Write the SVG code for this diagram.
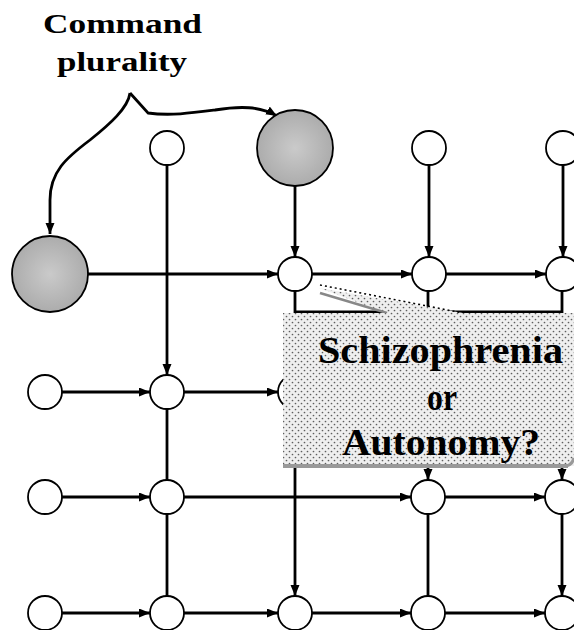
<svg xmlns="http://www.w3.org/2000/svg" width="574" height="630" viewBox="0 0 574 630">
<style>
.ln{fill:none;stroke:#000;stroke-width:2.8}
.ar{marker-end:url(#ah)}
.sn{fill:#fff;stroke:#000;stroke-width:1.8}
.gn{fill:url(#gg);stroke:#000;stroke-width:1.8}
.tx{font-family:"Liberation Serif","Times New Roman",serif;font-weight:bold;fill:#000}
</style>
<defs>
<marker id="ah" markerUnits="userSpaceOnUse" markerWidth="12" markerHeight="10" refX="11" refY="4.5" orient="auto">
<path d="M0,0 L11,4.5 L0,9 Z" fill="#000"/>
</marker>
<radialGradient id="gg" cx="0.5" cy="0.5" r="0.5">
<stop offset="0" stop-color="#cacaca"/>
<stop offset="1" stop-color="#acacac"/>
</radialGradient>
<pattern id="dots" width="6" height="6" patternUnits="userSpaceOnUse">
<rect width="6" height="6" fill="#efefef"/>
<circle cx="1.5" cy="1.5" r="0.85" fill="#5e5e5e"/>
<circle cx="4.5" cy="4.5" r="0.85" fill="#5e5e5e"/>
</pattern>
</defs>
<rect width="574" height="630" fill="#fff"/>
<g id="connectors">
<line class="ln ar" x1="167" y1="165" x2="167" y2="375"/>
<line class="ln ar" x1="295" y1="186" x2="295" y2="257"/>
<line class="ln ar" x1="88" y1="274" x2="278" y2="274"/>
<line class="ln ar" x1="312" y1="274" x2="412" y2="274"/>
<line class="ln ar" x1="446" y1="274" x2="546" y2="274"/>
<line class="ln ar" x1="429" y1="165" x2="429" y2="257"/>
<line class="ln ar" x1="563" y1="165" x2="563" y2="257"/>
<line class="ln ar" x1="295" y1="291" x2="295" y2="596"/>
<line class="ln ar" x1="428" y1="291" x2="428" y2="480"/>
<line class="ln ar" x1="562" y1="291" x2="562" y2="480"/>
<line class="ln" x1="295" y1="312" x2="562" y2="312"/>
<line class="ln ar" x1="62" y1="392" x2="150" y2="392"/>
<line class="ln ar" x1="184" y1="392" x2="278" y2="392"/>
<line class="ln" x1="167" y1="409" x2="167" y2="480"/>
<line class="ln ar" x1="62" y1="497" x2="150" y2="497"/>
<line class="ln ar" x1="184" y1="497" x2="411" y2="497"/>
<line class="ln ar" x1="445" y1="497" x2="545" y2="497"/>
<line class="ln" x1="167" y1="514" x2="167" y2="596"/>
<line class="ln" x1="428" y1="514" x2="428" y2="596"/>
<line class="ln ar" x1="562" y1="514" x2="562" y2="596"/>
<line class="ln ar" x1="62" y1="613" x2="150" y2="613"/>
<line class="ln ar" x1="184" y1="613" x2="278" y2="613"/>
<line class="ln ar" x1="312" y1="613" x2="411" y2="613"/>
<line class="ln ar" x1="445" y1="613" x2="545" y2="613"/>
<path class="ln ar" d="M130,93 C128,108 110,124 90,140 C66,158 50,172 50,200 L50,234"/>
<path class="ln ar" d="M130,93 L148,113 C170,116 192,113 215,110 C240,106 260,106 277,116"/>
</g>
<g id="n1"><circle class="sn" cx="167" cy="148" r="17"/></g>
<g id="g1"><circle class="gn" cx="295" cy="148" r="38"/></g>
<g id="n3"><circle class="sn" cx="429" cy="148" r="17"/></g>
<g id="n4"><circle class="sn" cx="563" cy="148" r="17"/></g>
<g id="g2"><circle class="gn" cx="50" cy="274" r="38"/></g>
<g id="n6"><circle class="sn" cx="295" cy="274" r="17"/></g>
<g id="n7"><circle class="sn" cx="429" cy="274" r="17"/></g>
<g id="n8"><circle class="sn" cx="563" cy="274" r="17"/></g>
<g id="n9"><circle class="sn" cx="45" cy="392" r="17"/></g>
<g id="n10"><circle class="sn" cx="167" cy="392" r="17"/></g>
<g id="n11"><circle class="sn" cx="295" cy="392" r="17"/></g>
<g id="n12"><circle class="sn" cx="45" cy="497" r="17"/></g>
<g id="n13"><circle class="sn" cx="167" cy="497" r="17"/></g>
<g id="n14"><circle class="sn" cx="428" cy="497" r="17"/></g>
<g id="n15"><circle class="sn" cx="562" cy="497" r="17"/></g>
<g id="n16"><circle class="sn" cx="45" cy="613" r="17"/></g>
<g id="n17"><circle class="sn" cx="167" cy="613" r="17"/></g>
<g id="n18"><circle class="sn" cx="295" cy="613" r="17"/></g>
<g id="n19"><circle class="sn" cx="428" cy="613" r="17"/></g>
<g id="n20"><circle class="sn" cx="562" cy="613" r="17"/></g>
<g id="label">
<text class="tx" x="43" y="33" font-size="28" textLength="159" lengthAdjust="spacingAndGlyphs">Command</text>
<text class="tx" x="57" y="71" font-size="28" textLength="130" lengthAdjust="spacingAndGlyphs">plurality</text>
</g>
<g id="callout">
<path d="M319,288 L387,313 L463,313 Z" fill="url(#dots)"/>
<line x1="320" y1="293" x2="387" y2="313" stroke="#888" stroke-width="2.5"/>
<line x1="320" y1="285" x2="463" y2="313" stroke="#000" stroke-width="1.5" stroke-dasharray="2 3"/>
<rect x="283" y="313" width="291" height="153" fill="url(#dots)"/>
<line x1="283" y1="466" x2="568" y2="466" stroke="#999" stroke-width="4"/>
<path d="M566,466 Q572,465 574,458" fill="none" stroke="#999" stroke-width="3"/>
<text class="tx" x="318" y="363" font-size="38" textLength="245" lengthAdjust="spacingAndGlyphs">Schizophrenia</text>
<text class="tx" x="427" y="410" font-size="38" textLength="30" lengthAdjust="spacingAndGlyphs">or</text>
<text class="tx" x="342" y="455" font-size="38" textLength="198" lengthAdjust="spacingAndGlyphs">Autonomy?</text>
</g>
</svg>
